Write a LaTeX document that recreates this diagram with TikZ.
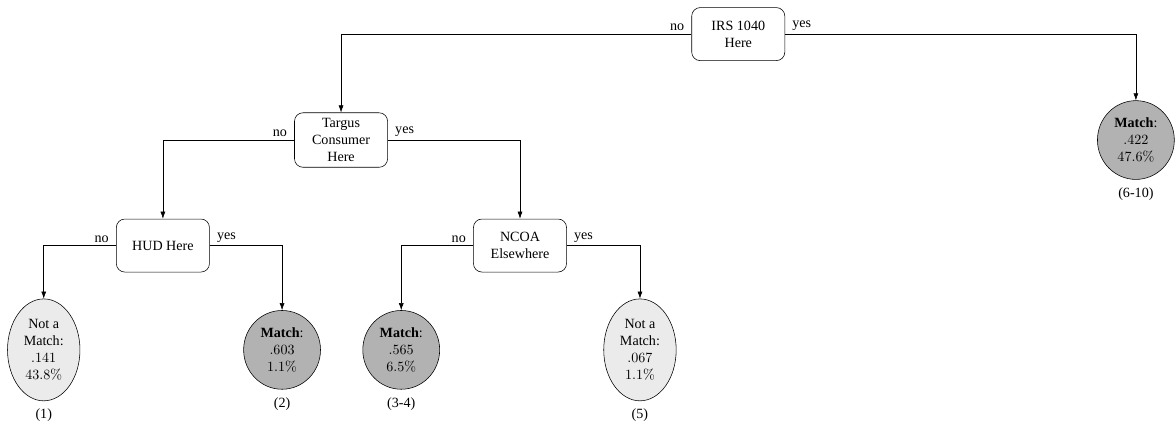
\documentclass[tikz,border=0pt]{standalone}
\usepackage[no-math]{fontspec}
\setmainfont{Liberation Serif}
\usetikzlibrary{positioning,shapes.geometric,arrows.meta}

\begin{document}
\begin{tikzpicture}
		[>={Latex[length=5pt,width=3.5pt]},
		split/.style={rectangle,draw,rounded corners=6pt,align=center,minimum width=66pt,minimum height=37.6pt,inner sep=4pt},
		match/.style={ellipse,draw,fill=black!30,align=center,inner sep=4pt},
		nomatch/.style={ellipse,draw,fill=black!8,align=center,inner sep=4pt},
		branch/.style={inner sep=2pt}]
		\useasboundingbox (0,0) rectangle (29.31,-10.72);
		% tests
		\node (IRS) [split] at (18.40,-0.85) {IRS 1040\\Here};
		\node (Targus) [split] at (8.50,-3.49) {Targus\\Consumer\\Here};
		\node (HUD) [split] at (4.06,-6.12) {HUD Here};
		\node (NCOA) [split] at (12.96,-6.12) {NCOA\\Elsewhere};
		% leaves
		\node (L1) [nomatch] at (1.09,-8.72) {Not a\\Match:\\$.141$\\$43.8\%$};
		\node (L2) [match] at (7.03,-8.72) {\textbf{Match}:\\$.603$\\$1.1\%$};
		\node (L34) [match] at (10.00,-8.72) {\textbf{Match}:\\$.565$\\$6.5\%$};
		\node (L5) [nomatch] at (15.95,-8.72) {Not a\\Match:\\$.067$\\$1.1\%$};
		\node (L610) [match] at (28.31,-3.49) {\textbf{Match}:\\$.422$\\$47.6\%$};
		\node (N1) [below=2pt of L1] {(1)};
		\node (N2) [below=2pt of L2] {(2)};
		\node (N34) [below=2pt of L34] {(3-4)};
		\node (N5) [below=2pt of L5] {(5)};
		\node (N610) [below=2pt of L610] {(6-10)};
		% branches
		\draw[->] (IRS.west) -| (Targus.north) node[at start,anchor=south east,branch,xshift=-3pt]{no};
		\draw[->] (IRS.east) -| (L610.north) node[at start,anchor=south west,branch,xshift=3pt]{yes};
		\draw[->] (Targus.west) -| (HUD.north) node[at start,anchor=south east,branch,xshift=-3pt]{no};
		\draw[->] (Targus.east) -| (NCOA.north) node[at start,anchor=south west,branch,xshift=3pt]{yes};
		\draw[->] (HUD.west) -| (L1.north) node[at start,anchor=south east,branch,xshift=-3pt]{no};
		\draw[->] (HUD.east) -| (L2.north) node[at start,anchor=south west,branch,xshift=3pt]{yes};
		\draw[->] (NCOA.west) -| (L34.north) node[at start,anchor=south east,branch,xshift=-3pt]{no};
		\draw[->] (NCOA.east) -| (L5.north) node[at start,anchor=south west,branch,xshift=3pt]{yes};
	\end{tikzpicture}
\end{document}
